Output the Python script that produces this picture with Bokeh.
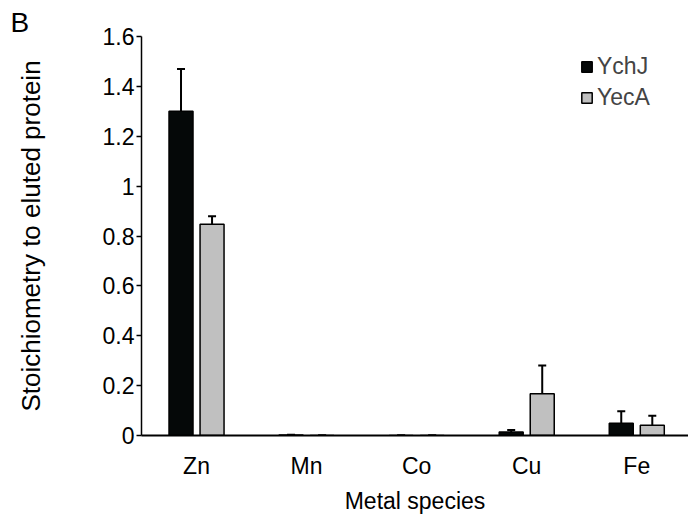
from bokeh.plotting import figure
from bokeh.models import (ColumnDataSource, Range1d, FixedTicker, Whisker,
                          TeeHead, Legend, LegendItem)
from bokeh.embed import file_html
from bokeh.resources import INLINE

metals = ["Zn", "Mn", "Co", "Cu", "Fe"]
ychj = [1.30, 0.002, 0.0, 0.014, 0.049]
ychj_err = [0.17, 0.001, 0.0, 0.008, 0.048]
yeca = [0.847, 0.0, 0.0, 0.167, 0.041]
yeca_err = [0.032, 0.0, 0.0, 0.114, 0.038]
y_ticks = [0, 0.2, 0.4, 0.6, 0.8, 1, 1.2, 1.4, 1.6]
y_tick_labels = ["0", "0.2", "0.4", "0.6", "0.8", "1", "1.2", "1.4", "1.6"]

FONT = "Liberation Sans"
OFF = 0.141
W = 0.218

pos = list(range(len(metals)))
src = ColumnDataSource(dict(
    x1=[i - OFF for i in pos], x2=[i + OFF for i in pos],
    ychj=ychj, yeca=yeca,
    ychj_up=[v + e for v, e in zip(ychj, ychj_err)],
    ychj_lo=[v - e for v, e in zip(ychj, ychj_err)],
    yeca_up=[v + e for v, e in zip(yeca, yeca_err)],
    yeca_lo=[v - e for v, e in zip(yeca, yeca_err)],
))

p = figure(width=688, height=516, output_backend="svg", toolbar_location=None,
           x_range=Range1d(-0.5, 4.47), y_range=Range1d(0, 1.6),
           min_border_left=141, min_border_right=0, min_border_top=36, min_border_bottom=78)
p.outline_line_color = None
p.xgrid.visible = False
p.ygrid.visible = False

p.title.text = "B"
p.title.align = "left"
p.title.offset = -131
p.title.standoff = -3
p.title.text_font = FONT
p.title.text_font_size = "28px"
p.title.text_font_style = "normal"
p.title.text_color = "#000000"

r1 = p.vbar(x="x1", top="ychj", width=W, source=src,
            fill_color="#050808", line_color="#000000", line_width=1.5)
r2 = p.vbar(x="x2", top="yeca", width=W, source=src,
            fill_color="#c0c0c0", line_color="#000000", line_width=1.5)

for xcol, col in (("x1", "ychj"), ("x2", "yeca")):
    wk = Whisker(base=xcol, upper=col + "_up", lower=col + "_lo",
                 source=src, line_color="#000000", line_width=2,
                 upper_head=TeeHead(size=8, line_width=2, line_color="#000000"),
                 lower_head=TeeHead(size=8, line_width=2, line_color="#000000"))
    p.add_layout(wk)

# y axis
p.yaxis.ticker = FixedTicker(ticks=y_ticks)
p.yaxis.major_label_overrides = {t: l for t, l in zip(y_ticks, y_tick_labels)}
p.yaxis.minor_tick_line_color = None
p.yaxis.major_tick_out = 5
p.yaxis.major_tick_in = 0
p.yaxis.axis_line_width = 1.5
p.yaxis.major_tick_line_width = 1.5
p.yaxis.major_label_standoff = 2
p.yaxis.major_label_text_font = FONT
p.yaxis.major_label_text_font_size = "23px"
p.yaxis.major_label_text_color = "#000000"
p.yaxis.axis_label = "Stoichiometry to eluted protein"
p.yaxis.axis_label_text_font = FONT
p.yaxis.axis_label_text_font_size = "26px"
p.yaxis.axis_label_text_font_style = "normal"
p.yaxis.axis_label_text_color = "#000000"
p.yaxis.axis_label_standoff = 54

# x axis
p.xaxis.ticker = FixedTicker(ticks=pos)
p.xaxis.major_label_overrides = {i: m for i, m in zip(pos, metals)}
p.xaxis.major_tick_line_color = None
p.xaxis.minor_tick_line_color = None
p.xaxis.axis_line_width = 2
p.xaxis.major_label_text_font = FONT
p.xaxis.major_label_text_font_size = "23px"
p.xaxis.major_label_text_color = "#000000"
p.xaxis.major_label_standoff = 11
p.xaxis.axis_label = "Metal species"
p.xaxis.axis_label_text_font = FONT
p.xaxis.axis_label_text_font_size = "23px"
p.xaxis.axis_label_text_font_style = "normal"
p.xaxis.axis_label_text_color = "#000000"
p.xaxis.axis_label_standoff = 6

legend = Legend(items=[LegendItem(label="YchJ", renderers=[r1]),
                       LegendItem(label="YecA", renderers=[r2])],
                location=(439, 324), padding=0, spacing=4, margin=0,
                glyph_width=13, glyph_height=13, label_standoff=4, label_height=20,
                label_text_font=FONT, label_text_font_size="23px",
                border_line_alpha=0, background_fill_alpha=0)
p.add_layout(legend)

open("out.html", "w").write(file_html(p, INLINE))
